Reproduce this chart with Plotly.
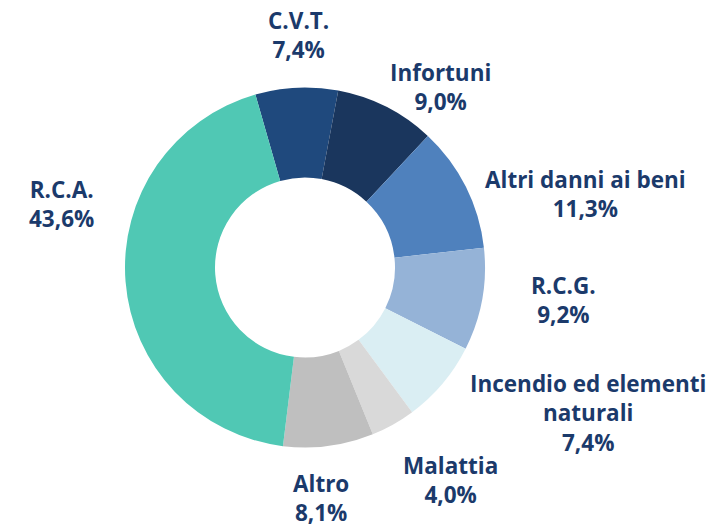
import math
import plotly.graph_objects as go

# Data
labels = ["C.V.T.", "Infortuni", "Altri danni ai beni", "R.C.G.",
          "Incendio ed elementi<br>naturali", "Malattia", "Altro", "R.C.A."]
values = [7.4, 9.0, 11.3, 9.2, 7.4, 4.0, 8.1, 43.6]
pct_text = ["7,4%", "9,0%", "11,3%", "9,2%", "7,4%", "4,0%", "8,1%", "43,6%"]

# Styles
colors = ["#1F497D", "#1A365D", "#4F81BD", "#95B3D7",
          "#DAEEF3", "#D9D9D9", "#BFBFBF", "#50C8B4"]
text_color = "#1B3A6B"
rotation = -16
# label placement tweaks (angle offset in degrees, radius factor vs outer radius)
ang_off = [1, 10, 12, -3, -13, -5, 3.6, 19]
rad_fac = [1.29, 1.255, 1.61, 1.445, 1.77, 1.43, 1.285, 1.396]
font_size = 22.5

W, H = 718, 527
cx, cy, R = 305, 267.5, 180

fig = go.Figure()
fig.add_trace(go.Pie(
    labels=labels, values=values, sort=False, direction="clockwise",
    rotation=rotation, hole=0.5, textinfo="none", hoverinfo="label+percent",
    marker=dict(colors=colors, line=dict(width=0)),
    domain=dict(x=[(cx - R) / W, (cx + R) / W],
                y=[(H - cy - R) / H, (H - cy + R) / H]),
    showlegend=False,
))

total = sum(values)
cum = 0.0
annotations = []
for i, v in enumerate(values):
    mid = rotation + (cum + v / 2) / total * 360
    cum += v
    a = math.radians(mid + ang_off[i])
    r = R * rad_fac[i]
    px = cx + r * math.sin(a)
    py = cy - r * math.cos(a)
    annotations.append(dict(
        x=px / W, y=1 - py / H, xref="paper", yref="paper",
        text=f"{labels[i]}<br>{pct_text[i]}", showarrow=False,
        xanchor="center", yanchor="middle", align="center",
        font=dict(family="Open Sans", size=font_size, color=text_color,
                  weight="bold"),
    ))

fig.update_layout(
    width=W, height=H, margin=dict(l=0, r=0, t=0, b=0),
    paper_bgcolor="white", plot_bgcolor="white",
    annotations=annotations,
)
fig.write_html("out.html", config={"displayModeBar": False},
               post_script="document.body.style.margin='0';")
